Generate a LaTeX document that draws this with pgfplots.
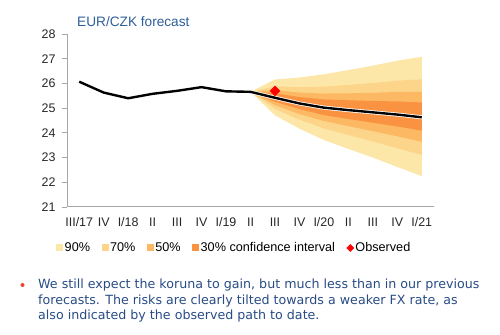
\documentclass[border=0pt]{standalone}
\usepackage{pgfplots}
\pgfplotsset{compat=1.18}
\usepgfplotslibrary{fillbetween}
\usepackage{fontspec}
\setmainfont{Liberation Sans}
\newfontfamily\verdana{DejaVu Sans}
\definecolor{c90}{HTML}{FDE7A8}
\definecolor{c70}{HTML}{FDD58A}
\definecolor{c50}{HTML}{FCB862}
\definecolor{c30}{HTML}{F99341}
\definecolor{titleblue}{HTML}{2D5F9A}
\definecolor{textblue}{HTML}{284C86}
\definecolor{bulletred}{HTML}{E8452C}
\definecolor{axgray}{HTML}{A6A6A6}
\begin{document}
\begin{tikzpicture}
\begin{axis}[
  at={(67bp,128bp)}, anchor=south west,
  scale only axis, width=367bp, height=173bp,
  xmin=-0.5, xmax=14.5, ymin=21, ymax=28,
  ytick={21,22,...,28},
  xtick={0,...,14},
  xticklabels={III/17,IV,I/18,II,III,IV,I/19,II,III,IV,I/20,II,III,IV,I/21},
  axis x line*=bottom, axis y line*=left,
  axis line style={axgray, line width=1bp},
  x tick style={draw=none},
  y tick style={axgray, line width=0.8bp},
  tick align=outside, major tick length=5bp,
  /pgf/number format/assume math mode=true,
  tick label style={font=\fontsize{12.5}{14}\selectfont, text=black!85},
  yticklabel style={xshift=-3bp},
  xticklabel style={yshift=-2bp},
  clip=false,
  legend style={at={(-0.038,-0.237)}, anchor=west, draw=none, fill=none,
    font=\fontsize{12.7}{14}\selectfont,
    nodes={inner xsep=1.5bp},
    /tikz/every even column/.append style={column sep=10bp}},
  legend columns=-1,
  legend cell align=left,
]
% band bounds (II/19 = 7 ... I/21 = 14)
\addplot[draw=none, name path=u90, forget plot] coordinates {(7,25.66)(8,26.16)(9,26.24)(10,26.37)(11,26.54)(12,26.72)(13,26.92)(14,27.08)};
\addplot[draw=none, name path=d90, forget plot] coordinates {(7,25.66)(8,24.71)(9,24.17)(10,23.71)(11,23.35)(12,23.00)(13,22.62)(14,22.25)};
\addplot[draw=none, name path=u70, forget plot] coordinates {(7,25.66)(8,25.88)(9,25.85)(10,25.87)(11,25.94)(12,26.02)(13,26.11)(14,26.17)};
\addplot[draw=none, name path=d70, forget plot] coordinates {(7,25.66)(8,24.96)(9,24.53)(10,24.18)(11,23.91)(12,23.65)(13,23.38)(14,23.10)};
\addplot[draw=none, name path=u50, forget plot] coordinates {(7,25.66)(8,25.73)(9,25.63)(10,25.59)(11,25.60)(12,25.62)(13,25.66)(14,25.66)};
\addplot[draw=none, name path=d50, forget plot] coordinates {(7,25.66)(8,25.12)(9,24.76)(10,24.48)(11,24.27)(12,24.07)(13,23.86)(14,23.64)};
\addplot[draw=none, name path=u30, forget plot] coordinates {(7,25.66)(8,25.60)(9,25.45)(10,25.35)(11,25.32)(12,25.29)(13,25.27)(14,25.23)};
\addplot[draw=none, name path=d30, forget plot] coordinates {(7,25.66)(8,25.26)(9,24.96)(10,24.72)(11,24.56)(12,24.41)(13,24.26)(14,24.09)};
\addplot[fill=c90, draw=none, legend image code/.code={\fill[c90] (0bp,-3.5bp) rectangle (7bp,3.5bp);}] fill between[of=u90 and d90];
\addlegendentry{90\%}
\addplot[fill=c70, draw=none, legend image code/.code={\fill[c70] (0bp,-3.5bp) rectangle (7bp,3.5bp);}] fill between[of=u70 and d70];
\addlegendentry{70\%}
\addplot[fill=c50, draw=none, legend image code/.code={\fill[c50] (0bp,-3.5bp) rectangle (7bp,3.5bp);}] fill between[of=u50 and d50];
\addlegendentry{50\%}
\addplot[fill=c30, draw=none, legend image code/.code={\fill[c30] (0bp,-3.5bp) rectangle (7bp,3.5bp);}] fill between[of=u30 and d30];
\addlegendentry{30\% confidence interval}
% central path
\addplot[white, line width=4bp, forget plot] coordinates {(0,26.07)(1,25.63)(2,25.40)(3,25.58)(4,25.70)(5,25.85)(6,25.68)(7,25.66)(8,25.42)(9,25.19)(10,25.02)(11,24.92)(12,24.83)(13,24.74)(14,24.63)};
\addplot[black, line width=2.4bp, forget plot] coordinates {(0,26.07)(1,25.63)(2,25.40)(3,25.58)(4,25.70)(5,25.85)(6,25.68)(7,25.66)(8,25.42)(9,25.19)(10,25.02)(11,24.92)(12,24.83)(13,24.74)(14,24.63)};
% observed
\addplot[only marks, mark=square*, mark size=3.5bp, mark options={rotate=45, draw=red, fill=red}, color=red,
  legend image code/.code={\fill[red] (3.5bp,-3.5bp) -- (7bp,0bp) -- (3.5bp,3.5bp) -- (0bp,0bp) -- cycle;}] coordinates {(8,25.70)};
\addlegendentry{Observed}
\end{axis}
\node[anchor=base west, text=titleblue, font=\fontsize{13.7}{16}\selectfont, inner sep=0] at (77bp,308bp) {EUR/CZK forecast};
\fill[bulletred] (22.5bp,50bp) circle (2bp);
\node[anchor=base west, text=textblue, font=\verdana\fontsize{12.7}{15}\selectfont, inner sep=0] at (38bp,46bp) {We still expect the koruna to gain, but much less than in our previous};
\node[anchor=base west, text=textblue, font=\verdana\fontsize{12.7}{15}\selectfont, inner sep=0] at (38bp,31bp) {forecasts. The risks are clearly tilted towards a weaker FX rate, as};
\node[anchor=base west, text=textblue, font=\verdana\fontsize{12.7}{15}\selectfont, inner sep=0] at (38bp,16bp) {also indicated by the observed path to date.};
\path (0,0) rectangle (500bp,335bp);
\end{tikzpicture}
\end{document}
